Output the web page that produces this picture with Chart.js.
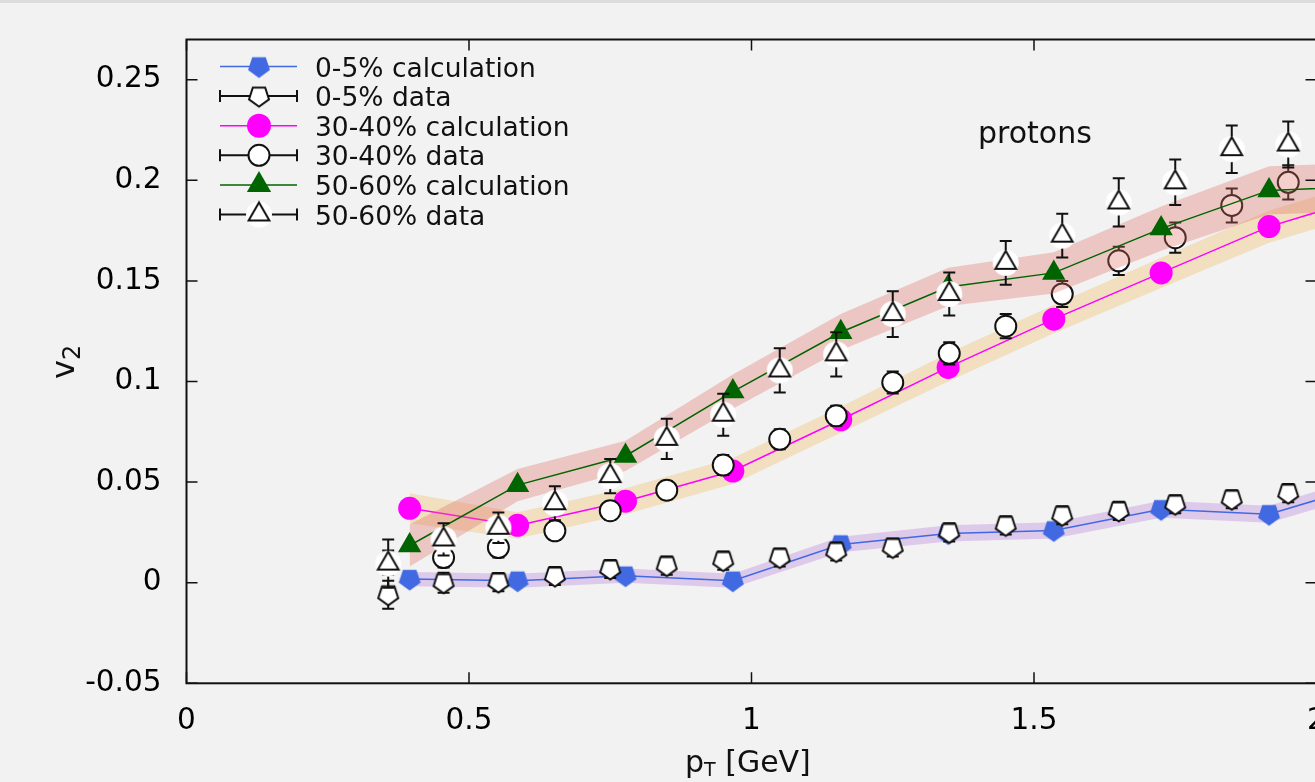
<!DOCTYPE html>
<html>
<head>
<meta charset="utf-8">
<title>v2 protons</title>
<script src="https://cdn.jsdelivr.net/npm/chart.js@4.4.0/dist/chart.umd.min.js"></script>
<style>
  html, body { margin: 0; padding: 0; background: #f2f2f2; overflow: hidden; }
  #wrap { position: relative; width: 1340px; height: 782px; }
  #strip { position: absolute; left: 0; top: 0; width: 1340px; height: 3px; background: #dcdcdc; }
  canvas { display: block; }
</style>
</head>
<body>
<div id="wrap">
  <canvas id="v2Chart" width="1340" height="782"></canvas>
  <div id="strip"></div>
</div>
<script>
// calculation points (pT in GeV)
const calcPt    = [0.395, 0.586, 0.777, 0.967, 1.158, 1.348, 1.535, 1.725, 1.916, 2.105];
const calc0_5   = [0.0018, 0.001, 0.0035, 0.001, 0.019, 0.0245, 0.026, 0.0365, 0.034, 0.050];
const calc30_40 = [0.037, 0.0285, 0.0405, 0.0555, 0.081, 0.107, 0.131, 0.154, 0.177, 0.193];
const calc50_60 = [0.0185, 0.0485, 0.063, 0.095, 0.1245, 0.147, 0.154, 0.176, 0.195, 0.197];

// half widths of the shaded bands around the calculations
const band0_5   = [0.0035, 0.0035, 0.0035, 0.0035, 0.0038, 0.004, 0.004, 0.0042, 0.0042, 0.0045];
const band30_40 = [0.0075, 0.0065, 0.0065, 0.0065, 0.0065, 0.007, 0.007, 0.0075, 0.008, 0.008];
const band50_60 = [0.0105, 0.008, 0.0075, 0.0085, 0.009, 0.0095, 0.0103, 0.011, 0.012, 0.012];

// measured points
const dataPt    = [0.357, 0.455, 0.552, 0.652, 0.75, 0.85, 0.95, 1.05, 1.15, 1.25, 1.35, 1.45, 1.55, 1.65, 1.75, 1.85, 1.95];
const data0_5   = [-0.006, 0.0, 0.0003, 0.0033, 0.0068, 0.0085, 0.011, 0.0125, 0.0155, 0.0175, 0.025, 0.0285, 0.0335, 0.0357, 0.039, 0.0415, 0.0445];
const err0_5    = [0.007, 0.005, 0.0045, 0.0045, 0.0045, 0.0045, 0.0045, 0.0045, 0.0045, 0.0045, 0.0045, 0.0045, 0.0045, 0.0045, 0.0045, 0.0045, 0.0045];
const data30_40 = [0.010, 0.0125, 0.0175, 0.0258, 0.0358, 0.046, 0.0585, 0.0713, 0.083, 0.0995, 0.114, 0.1275, 0.1435, 0.16, 0.1715, 0.1875, 0.199];
const err30_40  = [0.006, 0.005, 0.005, 0.0045, 0.0045, 0.0045, 0.005, 0.005, 0.005, 0.0055, 0.0055, 0.006, 0.0065, 0.007, 0.0075, 0.0085, 0.0085];
const data50_60 = [0.0095, 0.0215, 0.0273, 0.0395, 0.053, 0.0715, 0.0835, 0.1055, 0.1135, 0.1335, 0.1435, 0.159, 0.1725, 0.189, 0.199, 0.2155, 0.2178];
const err50_60  = [0.012, 0.008, 0.0076, 0.0085, 0.0085, 0.01, 0.0104, 0.011, 0.011, 0.0114, 0.0107, 0.0109, 0.0109, 0.012, 0.0113, 0.0118, 0.0114];

const xTicks = [0, 0.5, 1, 1.5, 2];
const xTickLabels = ['0', '0.5', '1', '1.5', '2'];
const yTicks = [-0.05, 0, 0.05, 0.1, 0.15, 0.2, 0.25];
const yTickLabels = ['-0.05', '0', '0.05', '0.1', '0.15', '0.2', '0.25'];

const legendLabels = ['0-5% calculation', '0-5% data', '30-40% calculation', '30-40% data', '50-60% calculation', '50-60% data'];

const FONT = "'DejaVu Sans', 'Liberation Sans', Arial, sans-serif";
const BLUE = '#4169e1', MAGENTA = '#ff00ff', GREEN = '#006400', INK = '#111';

const pts = (xs, ys) => xs.map((x, i) => ({ x: x, y: ys[i] }));
const edge = (xs, ys, hw, s) => xs.map((x, i) => ({ x: x, y: ys[i] + s * hw[i] }));

// marker images (no pentagon / haloed triangle in Chart.js)
function pentagonImg(R, fill, stroke) {
    const s = Math.ceil(2 * R + 5);
    const c = document.createElement('canvas');
    c.width = s; c.height = s;
    const g = c.getContext('2d');
    g.beginPath();
    for (let k = 0; k < 5; k++) {
        const a = Math.PI / 2 + k * 2 * Math.PI / 5;   // apex pointing down
        const px = s / 2 + R * Math.cos(a), py = s / 2 + R * Math.sin(a);
        if (k === 0) g.moveTo(px, py); else g.lineTo(px, py);
    }
    g.closePath();
    g.fillStyle = fill;
    g.fill();
    if (stroke) {
        g.lineWidth = 2;
        g.lineJoin = 'miter';
        g.strokeStyle = stroke;
        g.stroke();
    }
    return c;
}

function haloTriangleImg(R, halo) {
    const s = Math.ceil(2 * halo + 4);
    const c = document.createElement('canvas');
    c.width = s; c.height = s;
    const g = c.getContext('2d');
    g.beginPath();
    g.arc(s / 2, s / 2, halo, 0, Math.PI * 2);
    g.fillStyle = '#ffffff';
    g.fill();
    g.beginPath();
    for (let k = 0; k < 3; k++) {
        const a = -Math.PI / 2 + k * 2 * Math.PI / 3;
        const px = s / 2 + R * Math.cos(a), py = s / 2 + R * Math.sin(a);
        if (k === 0) g.moveTo(px, py); else g.lineTo(px, py);
    }
    g.closePath();
    g.fillStyle = '#ffffff';
    g.fill();
    g.lineWidth = 2;
    g.strokeStyle = INK;
    g.stroke();
    return c;
}

const bluePenta = pentagonImg(11.5, BLUE, null);
const whitePenta = pentagonImg(10.5, '#ffffff', INK);
const haloTri = haloTriangleImg(12, 13);

// error bars, drawn just before the markers of their own dataset
const errorBars = {
    id: 'errorBars',
    beforeDatasetDraw(chart, args) {
        const ds = chart.data.datasets[args.index];
        if (!ds.errors) return;
        const ctx = chart.ctx;
        const y = chart.scales.y;
        ctx.save();
        ctx.strokeStyle = INK;
        ctx.lineWidth = 2;
        ctx.beginPath();
        args.meta.data.forEach((pt, i) => {
            const v = ds.data[i].y, e = ds.errors[i];
            const top = y.getPixelForValue(v + e);
            const bot = y.getPixelForValue(v - e);
            ctx.moveTo(pt.x, top); ctx.lineTo(pt.x, bot);
            ctx.moveTo(pt.x - 6, top); ctx.lineTo(pt.x + 6, top);
            ctx.moveTo(pt.x - 6, bot); ctx.lineTo(pt.x + 6, bot);
        });
        ctx.stroke();
        ctx.restore();
    }
};

// closed frame with inward ticks on all four sides
const frame = {
    id: 'frame',
    afterDatasetsDraw(chart) {
        const { ctx, chartArea: a, scales: { x, y } } = chart;
        ctx.save();
        ctx.strokeStyle = INK;
        ctx.lineWidth = 2;
        ctx.strokeRect(a.left, a.top, a.right - a.left, a.bottom - a.top);
        ctx.beginPath();
        xTicks.forEach(v => {
            const p = x.getPixelForValue(v);
            ctx.moveTo(p, a.bottom); ctx.lineTo(p, a.bottom - 11);
            ctx.moveTo(p, a.top); ctx.lineTo(p, a.top + 11);
        });
        yTicks.forEach(v => {
            const p = y.getPixelForValue(v);
            ctx.moveTo(a.left, p); ctx.lineTo(a.left + 11, p);
            ctx.moveTo(a.right, p); ctx.lineTo(a.right - 11, p);
        });
        ctx.lineWidth = 1.5;
        ctx.stroke();
        ctx.restore();
    }
};

// legend inside the plot, axis titles and the "protons" label
const legendMarkers = [
    { line: BLUE, caps: false, img: bluePenta },
    { line: INK, caps: true, img: whitePenta },
    { line: MAGENTA, caps: false, style: 'circle', r: 12, bg: MAGENTA, bw: 0 },
    { line: INK, caps: true, style: 'circle', r: 10.5, bg: '#ffffff', bw: 2 },
    { line: GREEN, caps: false, style: 'triangle', r: 14, bg: GREEN, bw: 0 },
    { line: INK, caps: true, img: haloTri }
];

const annotations = {
    id: 'annotations',
    afterDraw(chart) {
        const ctx = chart.ctx;
        ctx.save();

        legendLabels.forEach((label, i) => {
            const m = legendMarkers[i];
            const cy = 66.5 + i * 29.6;
            const x0 = 220, x1 = 297, cx = 259;
            ctx.beginPath();
            ctx.moveTo(x0, cy); ctx.lineTo(x1, cy);
            if (m.caps) {
                ctx.moveTo(x0, cy - 6); ctx.lineTo(x0, cy + 6);
                ctx.moveTo(x1, cy - 6); ctx.lineTo(x1, cy + 6);
            }
            ctx.strokeStyle = m.line;
            ctx.lineWidth = m.caps ? 2 : 1.5;
            ctx.stroke();

            if (m.img) {
                ctx.drawImage(m.img, cx - m.img.width / 2, cy - m.img.height / 2);
            } else {
                ctx.fillStyle = m.bg;
                ctx.strokeStyle = INK;
                ctx.lineWidth = m.bw;
                Chart.helpers.drawPoint(ctx, { pointStyle: m.style, radius: m.r, rotation: 0, borderWidth: m.bw }, cx, cy);
            }

            ctx.fillStyle = INK;
            ctx.font = '26.5px ' + FONT;
            ctx.textAlign = 'left';
            ctx.textBaseline = 'alphabetic';
            ctx.fillText(label, 315, cy + 10);
        });

        ctx.fillStyle = INK;
        ctx.textBaseline = 'alphabetic';
        ctx.textAlign = 'left';

        // panel label
        ctx.font = '30px ' + FONT;
        ctx.fillText('protons', 978, 143);

        // x title: p_T [GeV]
        let xt = 685;
        ctx.font = '30px ' + FONT;
        ctx.fillText('p', xt, 772);
        xt += ctx.measureText('p').width;
        ctx.font = '19px ' + FONT;
        ctx.fillText('T', xt, 775.5);
        xt += ctx.measureText('T').width;
        ctx.font = '30px ' + FONT;
        ctx.fillText(' [GeV]', xt, 772);

        // y title: v_2, rotated
        ctx.translate(73.5, 379);
        ctx.rotate(-Math.PI / 2);
        ctx.font = '32px ' + FONT;
        ctx.fillText('v', 0, 0);
        const vw = ctx.measureText('v').width;
        ctx.font = '24px ' + FONT;
        ctx.fillText('2', vw, 6.5);

        ctx.restore();
    }
};

// draw order (higher order = further back):
// purple/tan bands, magenta calc, open circles, red band, blue & green calc, pentagons, triangles
const datasets = [
    {
        label: 'band 0-5 up', data: edge(calcPt, calc0_5, band0_5, 1), fill: '+1',
        backgroundColor: 'rgba(190, 140, 220, 0.4)', borderColor: 'transparent', borderWidth: 0, pointRadius: 0, order: 12
    },
    {
        label: 'band 0-5 low', data: edge(calcPt, calc0_5, band0_5, -1), fill: false,
        borderColor: 'transparent', borderWidth: 0, pointRadius: 0, order: 12
    },
    {
        label: 'band 30-40 up', data: edge(calcPt, calc30_40, band30_40, 1), fill: '+1',
        backgroundColor: 'rgba(240, 200, 130, 0.45)', borderColor: 'transparent', borderWidth: 0, pointRadius: 0, order: 11
    },
    {
        label: 'band 30-40 low', data: edge(calcPt, calc30_40, band30_40, -1), fill: false,
        borderColor: 'transparent', borderWidth: 0, pointRadius: 0, order: 11
    },
    {
        label: '30-40% calculation', data: pts(calcPt, calc30_40), borderColor: MAGENTA, borderWidth: 1.5,
        pointStyle: 'circle', pointRadius: 11.5, pointBackgroundColor: MAGENTA, pointBorderWidth: 0, fill: false, order: 9
    },
    {
        label: '30-40% data', data: pts(dataPt, data30_40), errors: err30_40, showLine: false,
        pointStyle: 'circle', pointRadius: 10.5, pointBackgroundColor: '#ffffff',
        pointBorderColor: INK, pointBorderWidth: 2, order: 8
    },
    {
        label: 'band 50-60 up', data: edge(calcPt, calc50_60, band50_60, 1), fill: '+1',
        backgroundColor: 'rgba(225, 110, 100, 0.33)', borderColor: 'transparent', borderWidth: 0, pointRadius: 0, order: 7
    },
    {
        label: 'band 50-60 low', data: edge(calcPt, calc50_60, band50_60, -1), fill: false,
        borderColor: 'transparent', borderWidth: 0, pointRadius: 0, order: 7
    },
    {
        label: '0-5% calculation', data: pts(calcPt, calc0_5), borderColor: BLUE, borderWidth: 1.5,
        pointStyle: bluePenta, pointRadius: 11, fill: false, order: 6
    },
    {
        label: '50-60% calculation', data: pts(calcPt, calc50_60), borderColor: GREEN, borderWidth: 1.5,
        pointStyle: 'triangle', pointRadius: 13.5, pointBackgroundColor: GREEN, pointBorderWidth: 0, fill: false, order: 5
    },
    {
        label: '0-5% data', data: pts(dataPt, data0_5), errors: err0_5, showLine: false,
        pointStyle: whitePenta, pointRadius: 10, order: 2
    },
    {
        label: '50-60% data', data: pts(dataPt, data50_60), errors: err50_60, showLine: false,
        pointStyle: haloTri, pointRadius: 12, order: 1
    }
];

new Chart(document.getElementById('v2Chart'), {
    type: 'line',
    data: { datasets: datasets },
    options: {
        responsive: false,
        animation: false,
        events: [],
        layout: { padding: { top: 39.5, right: 23.5, bottom: 0, left: 0 } },
        plugins: {
            legend: { display: false },
            tooltip: { enabled: false }
        },
        scales: {
            x: {
                type: 'linear',
                min: 0,
                max: 2,
                grid: { display: false },
                border: { display: false },
                afterBuildTicks: (scale) => { scale.ticks = xTicks.map(v => ({ value: v })); },
                afterFit: (scale) => { scale.height = 98.7; },
                ticks: {
                    autoSkip: false,
                    maxRotation: 0,
                    padding: 12,
                    color: '#000',
                    font: { family: FONT, size: 29.5 },
                    callback: (value, index) => xTickLabels[index]
                }
            },
            y: {
                type: 'linear',
                min: -0.05,
                max: 0.27,
                grid: { display: false },
                border: { display: false },
                afterBuildTicks: (scale) => { scale.ticks = yTicks.map(v => ({ value: v })); },
                afterFit: (scale) => { scale.width = 186.5; },
                ticks: {
                    autoSkip: false,
                    padding: 17,
                    color: '#000',
                    font: { family: FONT, size: 29.5 },
                    callback: (value, index) => yTickLabels[index]
                }
            }
        }
    },
    plugins: [errorBars, frame, annotations]
});
</script>
</body>
</html>
